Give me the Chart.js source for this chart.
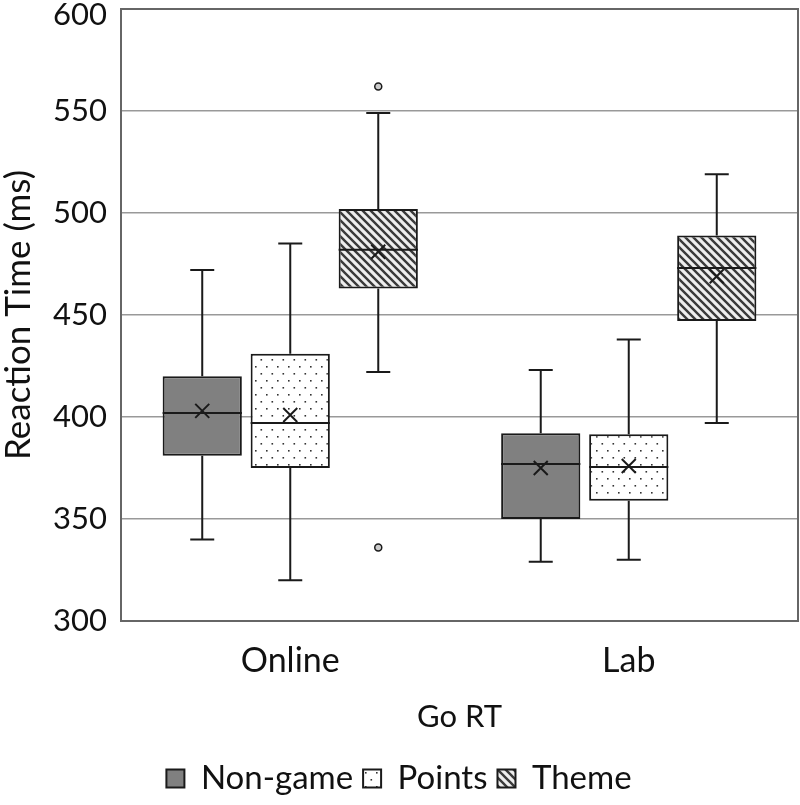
<!DOCTYPE html>
<html>
<head>
<meta charset="utf-8">
<script src="https://cdn.jsdelivr.net/npm/chart.js@4/dist/chart.umd.min.js"></script>
<style>
  html, body { margin: 0; padding: 0; background: #fff; }
  #wrap { width: 800px; height: 805px; }
</style>
</head>
<body>
<div id="wrap"><canvas id="chart"></canvas></div>
<script>
// categories + series
const categories = ['Online', 'Lab'];
const seriesNames = ['Non-game', 'Points', 'Theme'];
const yTicks = [300, 350, 400, 450, 500, 550, 600];

// Non-game
const nonGameMin = [340, 329];
const nonGameQ1 = [381, 350];
const nonGameMedian = [402, 377];
const nonGameQ3 = [420, 392];
const nonGameMax = [472, 423];
const nonGameMean = [403, 375];
const nonGameOutliers = [[], []];

// Points
const pointsMin = [320, 330];
const pointsQ1 = [375, 359];
const pointsMedian = [397, 375.5];
const pointsQ3 = [431, 391.5];
const pointsMax = [485, 438];
const pointsMean = [401, 376];
const pointsOutliers = [[], []];

// Theme
const themeMin = [422, 397];
const themeQ1 = [463, 447];
const themeMedian = [482, 473];
const themeQ3 = [502, 489];
const themeMax = [549, 519];
const themeMean = [481, 469];
const themeOutliers = [[562, 336], []];

const stats = [
  { min: nonGameMin, q1: nonGameQ1, med: nonGameMedian, q3: nonGameQ3, max: nonGameMax, mean: nonGameMean, out: nonGameOutliers },
  { min: pointsMin, q1: pointsQ1, med: pointsMedian, q3: pointsQ3, max: pointsMax, mean: pointsMean, out: pointsOutliers },
  { min: themeMin, q1: themeQ1, med: themeMedian, q3: themeQ3, max: themeMax, mean: themeMean, out: themeOutliers }
];

const font = "Lato, 'Open Sans', sans-serif";

// fill patterns
function dotPattern() {
  const c = document.createElement('canvas');
  c.width = 11; c.height = 14;
  const g = c.getContext('2d');
  g.fillStyle = '#fff';
  g.fillRect(0, 0, 11, 14);
  g.fillStyle = '#333';
  g.fillRect(2, 2, 1.6, 1.6);
  g.fillRect(7.5, 9, 1.6, 1.6);
  return g.createPattern(c, 'repeat');
}

function stripePattern() {
  const s = 8;
  const c = document.createElement('canvas');
  c.width = s; c.height = s;
  const g = c.getContext('2d');
  g.fillStyle = '#eee';
  g.fillRect(0, 0, s, s);
  g.strokeStyle = '#3a3a3a';
  g.lineWidth = 2.4;
  g.beginPath();
  g.moveTo(-2, -2); g.lineTo(s + 2, s + 2);
  g.moveTo(-2, s - 2); g.lineTo(2, s + 2);
  g.moveTo(s - 2, -2); g.lineTo(s + 2, 2);
  g.stroke();
  return g.createPattern(c, 'repeat');
}

const fills = ['#808080', dotPattern(), stripePattern()];

const datasets = seriesNames.map(function (name, i) {
  return {
    label: name,
    data: categories.map(function (c, j) { return [stats[i].q1[j], stats[i].q3[j]]; }),
    backgroundColor: fills[i],
    borderColor: '#1a1a1a',
    borderWidth: 2,
    borderSkipped: false,
    categoryPercentage: 0.78,
    barPercentage: 0.9
  };
});

// frame, y labels, whiskers, medians, means, outliers
const boxPlugin = {
  id: 'boxParts',
  beforeDatasetsDraw(chart) {
    const a = chart.chartArea, ctx = chart.ctx, y = chart.scales.y;
    ctx.save();
    ctx.strokeStyle = '#666';
    ctx.lineWidth = 2;
    ctx.strokeRect(a.left, a.top, a.right - a.left, a.bottom - a.top);
    // y tick labels (top one nudged down so it stays on the canvas)
    ctx.fillStyle = '#111';
    ctx.font = '31px ' + font;
    ctx.textAlign = 'right';
    ctx.textBaseline = 'middle';
    yTicks.forEach(function (v) {
      ctx.fillText(String(v), a.left - 14, Math.max(y.getPixelForValue(v), 15));
    });
    ctx.restore();
  },
  afterDatasetsDraw(chart) {
    const ctx = chart.ctx, y = chart.scales.y;
    ctx.save();
    ctx.strokeStyle = '#1a1a1a';
    ctx.lineWidth = 2;
    stats.forEach(function (s, i) {
      const meta = chart.getDatasetMeta(i);
      meta.data.forEach(function (bar, j) {
        const x = bar.x, hw = bar.width / 2, cap = 12;
        const yMin = y.getPixelForValue(s.min[j]), yMax = y.getPixelForValue(s.max[j]);
        const yQ1 = y.getPixelForValue(s.q1[j]), yQ3 = y.getPixelForValue(s.q3[j]);
        const yMed = y.getPixelForValue(s.med[j]), yMean = y.getPixelForValue(s.mean[j]);
        ctx.beginPath();
        // whiskers
        ctx.moveTo(x, yQ3); ctx.lineTo(x, yMax);
        ctx.moveTo(x - cap, yMax); ctx.lineTo(x + cap, yMax);
        ctx.moveTo(x, yQ1); ctx.lineTo(x, yMin);
        ctx.moveTo(x - cap, yMin); ctx.lineTo(x + cap, yMin);
        // median
        ctx.moveTo(x - hw, yMed); ctx.lineTo(x + hw, yMed);
        // mean cross
        const m = 7;
        ctx.moveTo(x - m, yMean - m); ctx.lineTo(x + m, yMean + m);
        ctx.moveTo(x - m, yMean + m); ctx.lineTo(x + m, yMean - m);
        ctx.stroke();
        // outliers
        s.out[j].forEach(function (v) {
          ctx.beginPath();
          ctx.arc(x, y.getPixelForValue(v), 3.5, 0, Math.PI * 2);
          ctx.fillStyle = '#ccc';
          ctx.fill();
          ctx.lineWidth = 1.5;
          ctx.stroke();
          ctx.lineWidth = 2;
        });
      });
    });
    ctx.restore();
  }
};

new Chart(document.getElementById('chart'), {
  type: 'bar',
  data: { labels: categories, datasets: datasets },
  options: {
    responsive: true,
    maintainAspectRatio: false,
    animation: false,
    layout: { padding: { top: 0, right: 2, left: 0, bottom: 0 } },
    plugins: {
      tooltip: { enabled: false },
      legend: {
        position: 'bottom',
        labels: {
          boxWidth: 18,
          boxHeight: 18,
          padding: 10,
          color: '#111',
          font: { family: font, size: 33 }
        }
      }
    },
    scales: {
      x: {
        afterFit: function (scale) { scale.height = 131; },
        grid: { display: false },
        border: { display: false },
        ticks: { color: '#111', padding: 12, font: { family: font, size: 34 } },
        title: { display: true, text: 'Go RT', color: '#111', padding: { top: 10, bottom: 16 }, font: { family: font, size: 31 } }
      },
      y: {
        min: 300,
        max: 600,
        afterBuildTicks: function (axis) { axis.ticks = yTicks.map(function (v) { return { value: v }; }); },
        afterFit: function (scale) { scale.width = 121; scale.paddingTop = 9; },
        grid: { color: '#999', lineWidth: 1.5, drawTicks: false },
        border: { display: false },
        ticks: { display: false },
        title: { display: true, text: 'Reaction Time (ms)', color: '#111', padding: { top: 0, bottom: 4 }, font: { family: font, size: 35, lineHeight: 1.05 } }
      }
    }
  },
  plugins: [boxPlugin]
});
</script>
</body>
</html>
